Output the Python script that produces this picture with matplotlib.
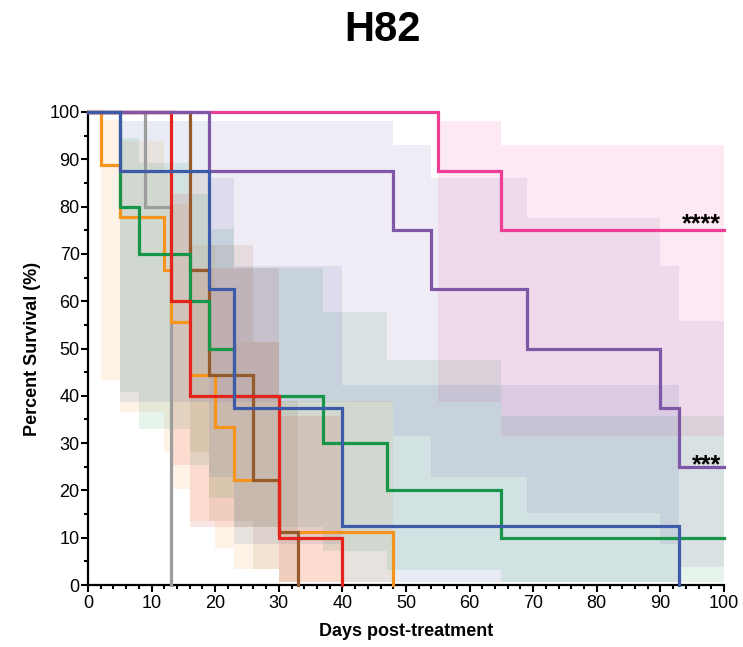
import matplotlib
matplotlib.use("Agg")
import matplotlib.pyplot as plt
from matplotlib.ticker import MultipleLocator

plt.rcParams['font.family'] = ['Liberation Sans', 'DejaVu Sans']

# ---- data (Kaplan-Meier steps: event day, survival after event, 95% CI low/high) ----
gray_days = [9, 13]
gray_surv = [80, 0]
gray_lo = [None, None]   # no visible band in the reference
gray_hi = [None, None]

orange_days = [2, 5, 12, 13, 16, 20, 23, 30, 48]
orange_surv = [88.9, 77.8, 66.7, 55.6, 44.4, 33.3, 22.2, 11.1, 0]
orange_lo = [43.3, 36.5, 28.2, 20.4, 13.6, 7.8, 3.4, 0.6, 0]
orange_hi = [98.4, 93.9, 87.8, 80.5, 71.9, 62.3, 51.3, 38.8, 0]

brown_days = [16, 19, 26, 30, 33]
brown_surv = [66.7, 44.4, 22.2, 11.1, 0]
brown_lo = [28.2, 13.6, 3.4, 0.6, 0]
brown_hi = [87.8, 71.9, 51.3, 38.8, 0]

red_days = [13, 16, 30, 40]
red_surv = [60, 40, 10, 0]
red_lo = [25.3, 12.3, 0.6, 0]
red_hi = [82.7, 67.0, 35.8, 0]

green_days = [5, 8, 16, 19, 23, 37, 47, 65]
green_surv = [80, 70, 60, 50, 40, 30, 20, 10]
green_lo = [40.9, 32.9, 25.3, 18.4, 12.3, 7.1, 3.1, 0.6]
green_hi = [94.6, 89.2, 82.7, 75.3, 67.0, 57.8, 47.5, 35.8]

pink_days = [55, 65]
pink_surv = [87.5, 75]
pink_lo = [38.7, 31.5]
pink_hi = [98.1, 93.1]

purple_days = [19, 48, 54, 69, 90, 93]
purple_surv = [87.5, 75, 62.5, 50, 37.5, 25]
purple_lo = [38.7, 31.5, 22.9, 15.2, 8.7, 3.7]
purple_hi = [98.1, 93.1, 86.1, 77.5, 67.4, 55.8]

blue_days = [5, 19, 23, 40, 93]
blue_surv = [87.5, 62.5, 37.5, 12.5, 0]
blue_lo = [38.7, 22.9, 8.7, 0.7, 0]
blue_hi = [98.1, 86.1, 67.4, 42.3, 0]

end_day = 100
x_ticks = [0, 10, 20, 30, 40, 50, 60, 70, 80, 90, 100]
y_ticks = [0, 10, 20, 30, 40, 50, 60, 70, 80, 90, 100]

groups = [
    (gray_days, gray_surv, gray_lo, gray_hi, '#9D9D9D'),
    (orange_days, orange_surv, orange_lo, orange_hi, '#F7941E'),
    (brown_days, brown_surv, brown_lo, brown_hi, '#955B2C'),
    (green_days, green_surv, green_lo, green_hi, '#17964A'),
    (red_days, red_surv, red_lo, red_hi, '#E3231C'),
    (pink_days, pink_surv, pink_lo, pink_hi, '#EE3D94'),
    (purple_days, purple_surv, purple_lo, purple_hi, '#7E58A7'),
    (blue_days, blue_surv, blue_lo, blue_hi, '#3D5BA9'),
]

fig = plt.figure(figsize=(7.43, 6.47), dpi=100)
ax = fig.add_axes([88/743, 1-585/647, (724-88)/743, (585-112)/647])

# confidence bands
for days, surv, lo, hi, col in groups:
    xs, los, his = [], [], []
    for i in range(len(days)):
        if surv[i] <= 0 or lo[i] is None:
            break
        x0 = days[i]
        x1 = days[i+1] if i+1 < len(days) else end_day
        xs += [x0, x1]
        los += [lo[i], lo[i]]
        his += [hi[i], hi[i]]
    if xs:
        ax.fill_between(xs, los, his, color=col, alpha=0.11, lw=0)

# survival lines
for days, surv, lo, hi, col in groups:
    x = [0] + list(days)
    y = [100] + list(surv)
    if surv[-1] > 0:
        x.append(end_day)
        y.append(surv[-1])
    ax.step(x, y, where='post', color=col, lw=2.3, clip_on=False,
            solid_joinstyle='miter', zorder=3)

ax.text(99.5, 74.8, '****', ha='right', va='baseline', fontsize=18, fontweight='bold')
ax.text(99.5, 23.9, '***', ha='right', va='baseline', fontsize=18, fontweight='bold')

ax.set_xlim(0, 100)
ax.set_ylim(0, 100)
ax.set_xticks(x_ticks)
ax.set_yticks(y_ticks)
ax.xaxis.set_minor_locator(MultipleLocator(2))
ax.yaxis.set_minor_locator(MultipleLocator(5))
for s in ['top', 'right']:
    ax.spines[s].set_visible(False)
for s in ['left', 'bottom']:
    ax.spines[s].set_linewidth(1.6)
ax.tick_params(which='major', length=5, width=1.5, labelsize=13, color='black')
ax.tick_params(axis='y', which='major', pad=1)
ax.tick_params(axis='x', which='major', pad=2)
ax.tick_params(which='minor', length=3.2, width=1.5)

ax.set_xlabel('Days post-treatment', fontsize=13, fontweight='bold', labelpad=8)
ax.set_ylabel('Percent Survival (%)', fontsize=13, fontweight='bold', labelpad=6)

fig.text(382/743, 1-30/647, 'H82', ha='center', va='center', fontsize=30, fontweight='bold')

fig.savefig('out.png', dpi=100)
